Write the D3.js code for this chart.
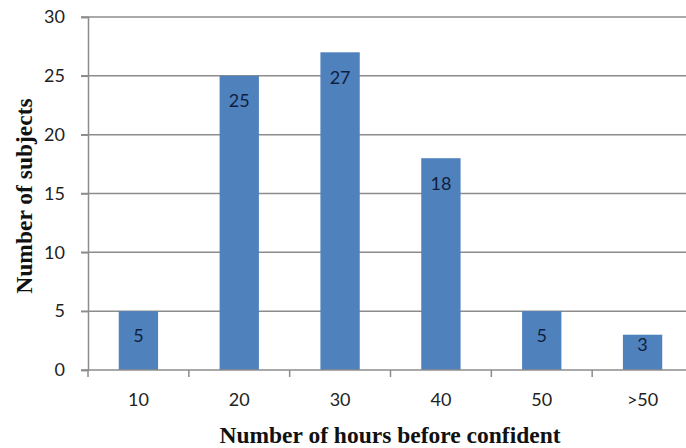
<!DOCTYPE html>
<html><head><meta charset="utf-8">
<script src="https://cdn.jsdelivr.net/npm/d3@7"></script>
<style>body{margin:0;background:#fff;overflow:hidden}</style>
</head><body>
<svg id="c" width="686" height="448"></svg>
<script>
const categories = ["10","20","30","40","50",">50"];
const values = [5,25,27,18,5,3];
const yTicks = [0,5,10,15,20,25,30];

(function(){
const svg = d3.select("#c");
const mLeft = 88, mRight = 693, mTop = 17, mBottom = 370;
const x = d3.scaleBand().domain(categories).range([mLeft,mRight]).paddingInner(0.61).paddingOuter(0.305);
const y = d3.scaleLinear().domain([0,30]).range([mBottom,mTop]);
const band = (mRight-mLeft)/categories.length;

// gridlines
svg.append("g").selectAll("line").data(yTicks.filter(d=>d>0)).join("line")
  .attr("x1",mLeft-7).attr("x2",mRight).attr("y1",d=>y(d)).attr("y2",d=>y(d))
  .attr("stroke","#8c8c8c").attr("stroke-width",1.5);

// bars
svg.append("g").selectAll("rect").data(values).join("rect")
  .attr("x",(d,i)=>x(categories[i])).attr("width",x.bandwidth())
  .attr("y",d=>y(d)).attr("height",d=>mBottom-y(d))
  .attr("fill","#4f81bd");

// y axis
const ya = svg.append("g").attr("transform",`translate(${mLeft},0)`)
  .call(d3.axisLeft(y).tickValues(yTicks).tickSize(7).tickPadding(16));
ya.select(".domain").attr("stroke","#8c8c8c").attr("stroke-width",1.5);
ya.selectAll(".tick line").attr("stroke","#8c8c8c").attr("stroke-width",1.5);
ya.selectAll("text").attr("font-family","Lato, 'Open Sans', sans-serif").attr("font-size",18).attr("fill","#222");

// x axis
const xa = svg.append("g").attr("transform",`translate(0,${mBottom})`)
  .call(d3.axisBottom(x).tickSize(0).tickPadding(23));
xa.select(".domain").remove();
xa.selectAll("text").attr("font-family","Lato, 'Open Sans', sans-serif").attr("font-size",18).attr("fill","#222");
svg.append("line").attr("x1",mLeft-7).attr("x2",mRight).attr("y1",mBottom).attr("y2",mBottom)
  .attr("stroke","#8c8c8c").attr("stroke-width",1.5);
svg.append("g").selectAll("line").data(d3.range(categories.length+1)).join("line")
  .attr("x1",i=>mLeft+i*band).attr("x2",i=>mLeft+i*band).attr("y1",mBottom).attr("y2",mBottom+7)
  .attr("stroke","#8c8c8c").attr("stroke-width",1.5);

// data labels
svg.append("g").selectAll("text").data(values).join("text")
  .attr("x",(d,i)=>x(categories[i])+x.bandwidth()/2)
  .attr("y",d=>Math.min(y(d)+25, mBottom-25))
  .attr("dy","0.35em").attr("text-anchor","middle")
  .attr("font-family","Lato, 'Open Sans', sans-serif").attr("font-size",18)
  .attr("fill","#0f1f3f").text(d=>d);

// axis titles
svg.append("text").attr("x",390).attr("y",443).attr("text-anchor","middle")
  .attr("font-family","'Liberation Serif', serif").attr("font-weight","bold").attr("font-size",23.5)
  .attr("fill","#111").text("Number of hours before confident");
svg.append("text").attr("transform","translate(32,196) rotate(-90)").attr("text-anchor","middle")
  .attr("font-family","'Liberation Serif', serif").attr("font-weight","bold").attr("font-size",23.5)
  .attr("fill","#111").text("Number of subjects");
})();
</script>
</body></html>
